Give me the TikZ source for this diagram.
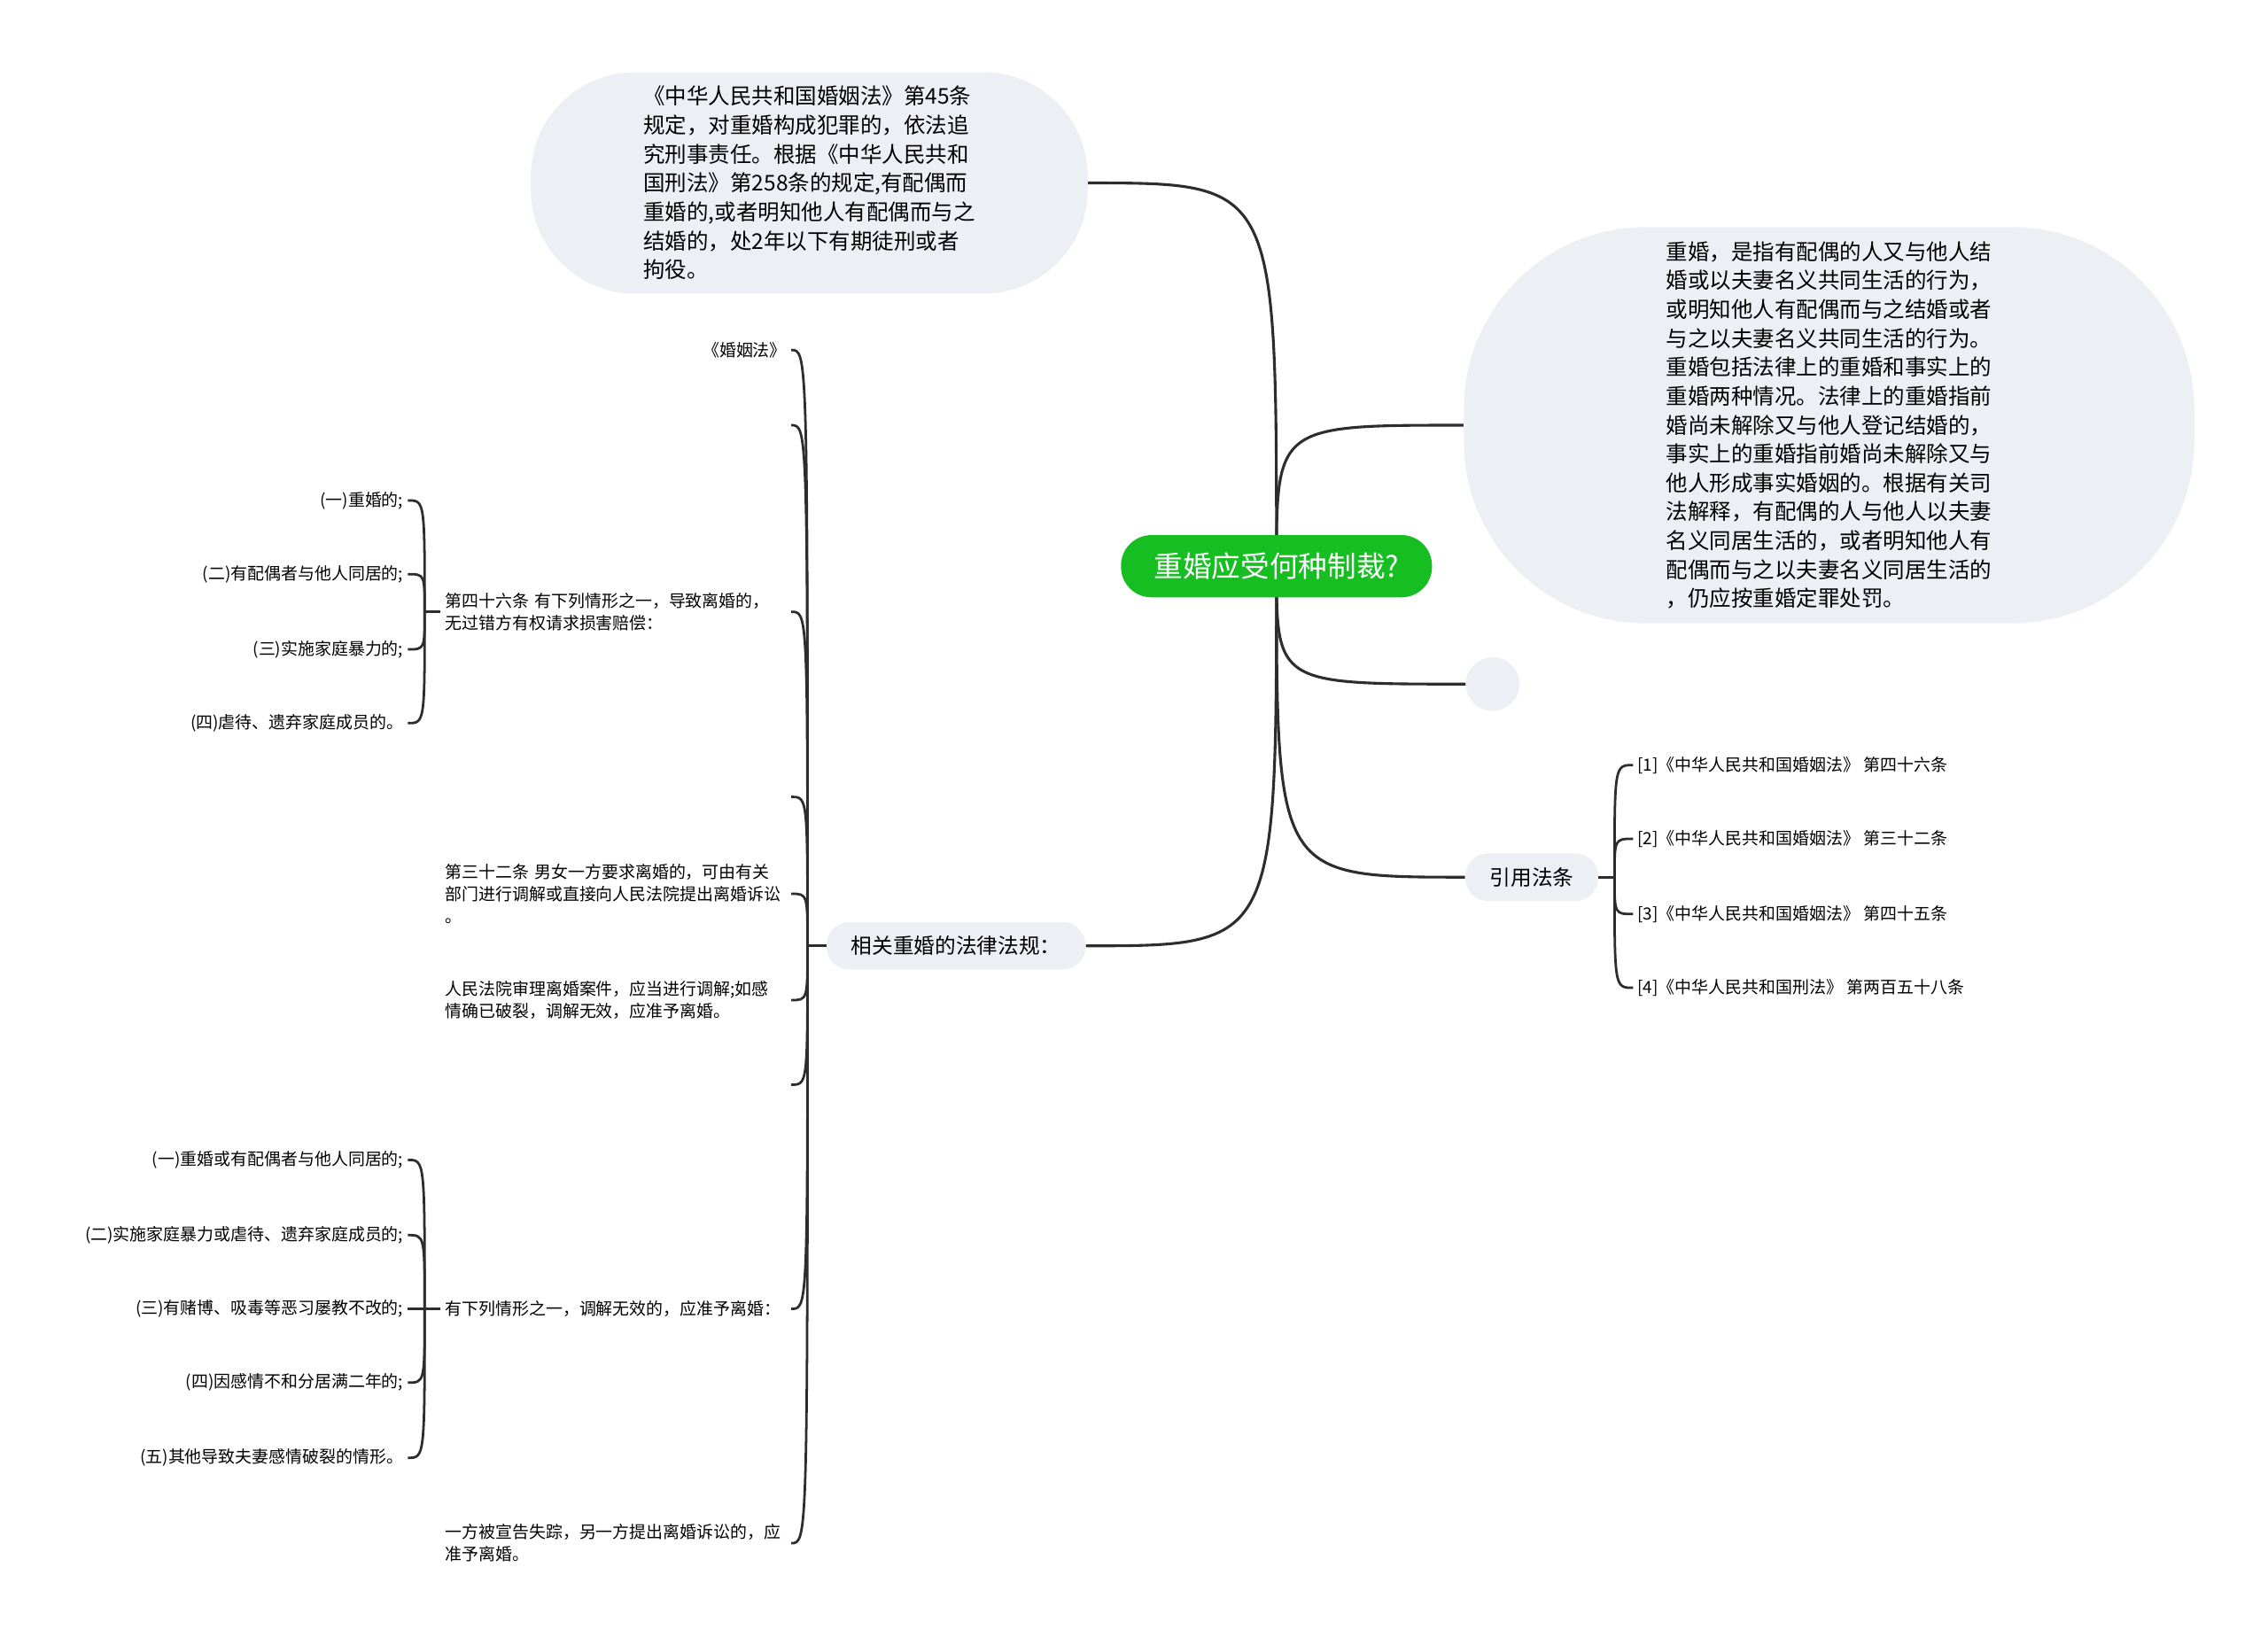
\documentclass[tikz,border=0pt]{standalone}
\usepackage{fontspec}
\setmainfont{Noto Sans CJK SC}
\usetikzlibrary{positioning,calc,backgrounds}
\definecolor{rootgreen}{RGB}{22,190,34}
\definecolor{bubblefill}{RGB}{236,240,244}
\definecolor{linkgray}{RGB}{45,45,45}
\newcommand{\fsz}[2]{\fontsize{#1}{#2}\selectfont}

\begin{document}
\begin{tikzpicture}[x=1pt, y=-1pt,
    root/.style={fill=rootgreen, text=white, rounded corners=21pt, minimum width=215pt,
                 minimum height=43pt, inner sep=0pt, font=\fsz{20}{24}},
    bubble/.style={fill=bubblefill, align=left, inner sep=0pt, font=\fsz{15}{20}},
    topic/.style={fill=bubblefill, rounded corners=16pt, minimum height=33pt,
                  inner xsep=17pt, inner ysep=0pt, font=\fsz{14.5}{18}},
    leaf/.style={align=left, inner xsep=3pt, inner ysep=1pt, font=\fsz{11.6}{15.5}},
    wide/.style={leaf, text width=236pt},
    link/.style={draw=linkgray, line width=1.9pt},
    brace/.style={draw=linkgray, line width=1.7pt}
  ]
  \useasboundingbox (0,0) rectangle (1568,1137);

  % ================= CENTRE =================
  \node[root] (root) at (882.5,391.5) {重婚应受何种制裁?};

  % ================= BUBBLES ROUND THE CENTRE =================
  \node[bubble, rounded corners=72pt, minimum width=385pt, minimum height=153pt]
    (law) at (559.5,126.5) {%
    《中华人民共和国婚姻法》第45条\\
    规定，对重婚构成犯罪的，依法追\\
    究刑事责任。根据《中华人民共和\\
    国刑法》第258条的规定,有配偶而\\
    重婚的,或者明知他人有配偶而与之\\
    结婚的，处2年以下有期徒刑或者\\
    拘役。};

  \node[bubble, rounded corners=126pt, minimum width=505pt, minimum height=274pt]
    (defn) at (1264.5,294) {%
    重婚，是指有配偶的人又与他人结\\
    婚或以夫妻名义共同生活的行为，\\
    或明知他人有配偶而与之结婚或者\\
    与之以夫妻名义共同生活的行为。\\
    重婚包括法律上的重婚和事实上的\\
    重婚两种情况。法律上的重婚指前\\
    婚尚未解除又与他人登记结婚的，\\
    事实上的重婚指前婚尚未解除又与\\
    他人形成事实婚姻的。根据有关司\\
    法解释，有配偶的人与他人以夫妻\\
    名义同居生活的，或者明知他人有\\
    配偶而与之以夫妻名义同居生活的\\
    ，仍应按重婚定罪处罚。};

  \node[fill=bubblefill, circle, minimum size=37pt, inner sep=0pt] (blank) at (1032,473) {};

  % ================= CITED ARTICLES =================
  \node[topic] (cite) at (1059,606.5) {引用法条};
  \node[leaf, anchor=west] (ref1) at (1129,529) {[1]《中华人民共和国婚姻法》 第四十六条};
  \node[leaf, anchor=west] (ref2) at (1129,580) {[2]《中华人民共和国婚姻法》 第三十二条};
  \node[leaf, anchor=west] (ref3) at (1129,632) {[3]《中华人民共和国婚姻法》 第四十五条};
  \node[leaf, anchor=west] (ref4) at (1129,683) {[4]《中华人民共和国刑法》 第两百五十八条};

  \coordinate (citej) at ([xshift=11pt]cite.east);
  \draw[brace] (cite.east) -- (citej);
  \foreach \r in {ref1,ref2,ref3,ref4}
    \draw[brace] (citej) .. controls (citej |- \r.west) .. (\r.west);

  % ================= RELATED LAW =================
  \node[topic] (rel) at (661,654) {相关重婚的法律法规：};

  \node[leaf, anchor=east] (hyf) at (547,242) {《婚姻法》};
  \node[wide, anchor=east] (a46) at (547,423) {第四十六条 有下列情形之一，导致离婚的，\\无过错方有权请求损害赔偿：};
  \node[wide, anchor=east] (a32) at (547,618) {第三十二条 男女一方要求离婚的，可由有关\\部门进行调解或直接向人民法院提出离婚诉讼\\。};
  \node[wide, anchor=east] (court) at (547,691.5) {人民法院审理离婚案件，应当进行调解;如感\\情确已破裂，调解无效，应准予离婚。};
  \node[wide, anchor=east] (fail) at (547,905) {有下列情形之一，调解无效的，应准予离婚：};
  \node[wide, anchor=east] (lost) at (547,1067) {一方被宣告失踪，另一方提出离婚诉讼的，应\\准予离婚。};
  \coordinate (e1) at (547,294);
  \coordinate (e2) at (547,551);
  \coordinate (e3) at (547,750);

  \coordinate (relj) at ([xshift=-13pt]rel.west);
  \draw[brace] (rel.west) -- (relj);
  \foreach \c in {hyf,a46,a32,court,fail,lost}
    \draw[brace] (relj) .. controls (relj |- \c.east) .. (\c.east);
  \foreach \c in {e1,e2,e3}
    \draw[brace] (relj) .. controls (relj |- \c) .. (\c);

  % article 46 items
  \node[leaf, anchor=east] (p1) at (282,346) {(一)重婚的;};
  \node[leaf, anchor=east] (p2) at (282,397) {(二)有配偶者与他人同居的;};
  \node[leaf, anchor=east] (p3) at (282,449) {(三)实施家庭暴力的;};
  \node[leaf, anchor=east] (p4) at (282,500) {(四)虐待、遗弃家庭成员的。};
  \coordinate (a46j) at ([xshift=-11pt]a46.west);
  \draw[brace] (a46.west) -- (a46j);
  \foreach \c in {p1,p2,p3,p4}
    \draw[brace] (a46j) .. controls (a46j |- \c.east) .. (\c.east);

  % grounds for divorce
  \node[leaf, anchor=east] (q1) at (282,802) {(一)重婚或有配偶者与他人同居的;};
  \node[leaf, anchor=east] (q2) at (282,854) {(二)实施家庭暴力或虐待、遗弃家庭成员的;};
  \node[leaf, anchor=east] (q3) at (282,905) {(三)有赌博、吸毒等恶习屡教不改的;};
  \node[leaf, anchor=east] (q4) at (282,956) {(四)因感情不和分居满二年的;};
  \node[leaf, anchor=east] (q5) at (282,1008) {(五)其他导致夫妻感情破裂的情形。};
  \coordinate (failj) at ([xshift=-11pt]fail.west);
  \draw[brace] (fail.west) -- (failj);
  \foreach \c in {q1,q2,q3,q4,q5}
    \draw[brace] (failj) .. controls (failj |- \c.east) .. (\c.east);

  % ================= LINKS FROM THE CENTRE =================
  \begin{scope}[on background layer]
    \fill[white] (0,0) rectangle (1568,1137);
    \foreach \t/\a in {law/east, defn/west, blank/west, cite/west, rel/east}
      \draw[link] (root.center) .. controls (root.center |- \t.\a) .. (\t.\a);
  \end{scope}

\end{tikzpicture}
\end{document}
